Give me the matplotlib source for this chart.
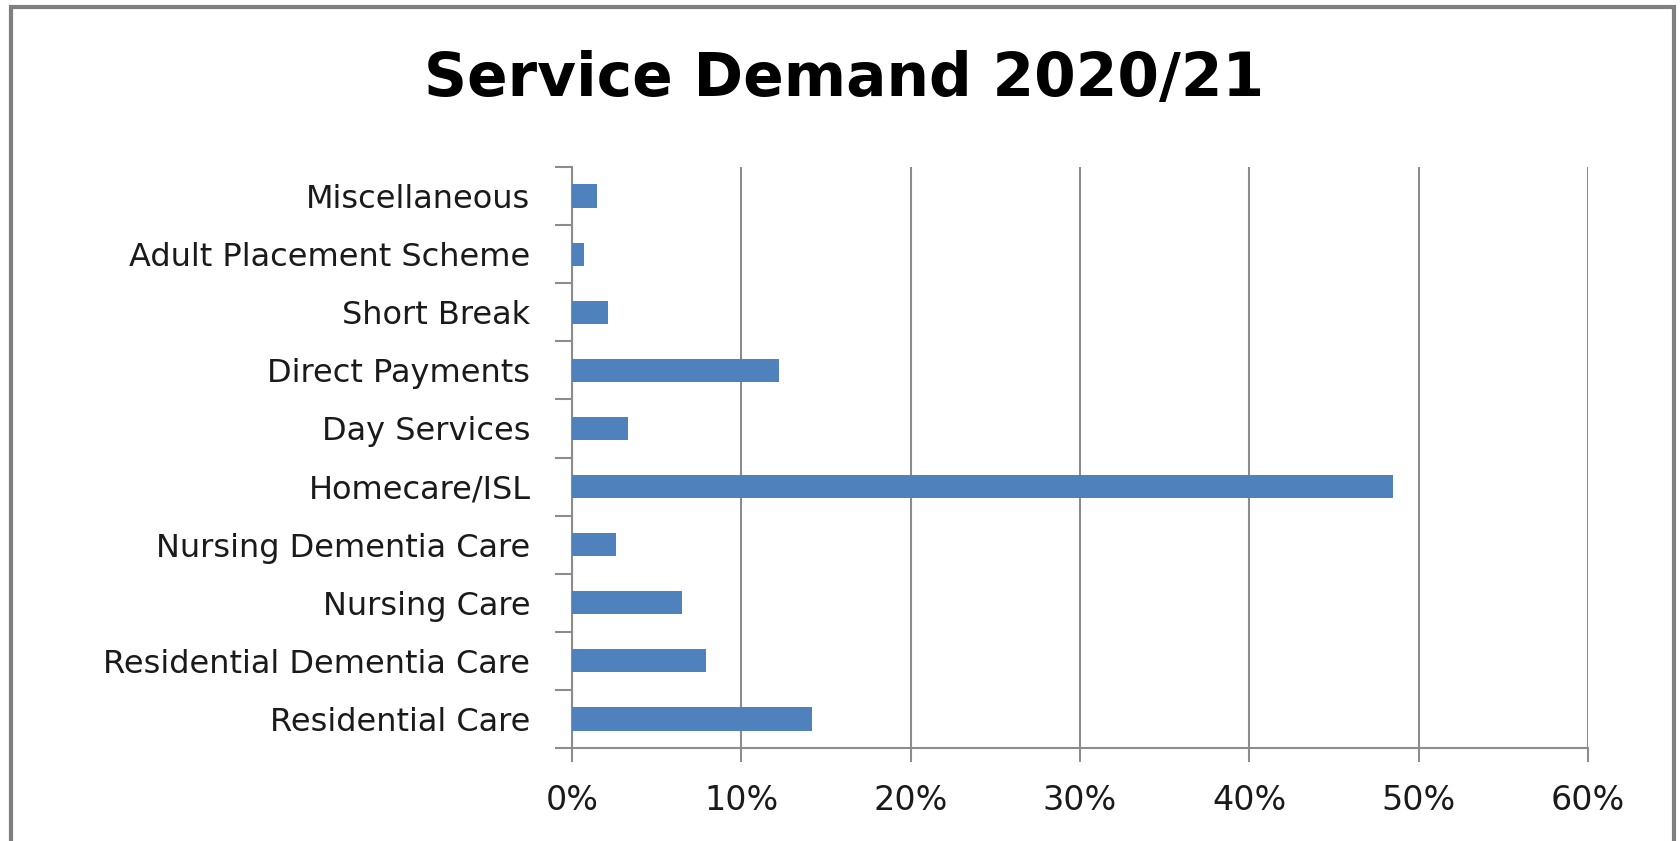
import numpy as np
import matplotlib
matplotlib.use("Agg")
import matplotlib.pyplot as plt
from matplotlib.patches import Rectangle
from matplotlib.ticker import FuncFormatter, FixedLocator

# values (share of demand, %)
categories = ["Residential Care", "Residential Dementia Care", "Nursing Care",
              "Nursing Dementia Care", "Homecare/ISL", "Day Services",
              "Direct Payments", "Short Break", "Adult Placement Scheme",
              "Miscellaneous"]
shares = [14.2, 7.9, 6.5, 2.6, 48.5, 3.3, 12.2, 2.1, 0.7, 1.5]
x_ticks = [0, 10, 20, 30, 40, 50, 60]

plt.rcParams['font.family'] = ['DejaVu Sans']
grey = "#8c8c8c"

fig = plt.figure(figsize=(16.81, 8.41), dpi=100)
ax = fig.add_axes([0.3403, 0.1106, 0.6044, 0.6908])

ypos = np.arange(len(categories))
ax.barh(ypos, shares, height=0.4, color="#4f81bd", zorder=3)

ax.set_xlim(0, 60)
ax.set_ylim(-0.5, len(categories) - 0.5)
ax.xaxis.set_major_locator(FixedLocator(x_ticks))
ax.xaxis.set_major_formatter(FuncFormatter(lambda v, p: "%d%%" % v))
ax.grid(axis="x", color=grey, linewidth=1.5, zorder=0)

ax.set_yticks(ypos)
ax.set_yticklabels(categories)
ax.set_yticks(np.arange(-0.5, len(categories)), minor=True)
ax.tick_params(axis="y", which="major", length=0, pad=30, labelsize=23, colors="#1a1a1a")
ax.tick_params(axis="y", which="minor", length=12, width=1.5, color=grey)
ax.tick_params(axis="x", length=10, width=1.5, color=grey, labelsize=24, pad=16, labelcolor="#1a1a1a")

for side in ["top", "right"]:
    ax.spines[side].set_visible(False)
for side in ["left", "bottom"]:
    ax.spines[side].set_color(grey)
    ax.spines[side].set_linewidth(1.5)

fig.text(0.502, 0.905, "Service Demand 2020/21", ha="center", va="center",
         fontsize=43, fontweight="bold", color="black")

# outer chart frame
fig.patches.append(Rectangle((0.0065, -0.05), 0.9895, 1.042, transform=fig.transFigure,
                             fill=False, edgecolor="#7f7f7f", linewidth=3))

fig.savefig("out.png", dpi=100)
